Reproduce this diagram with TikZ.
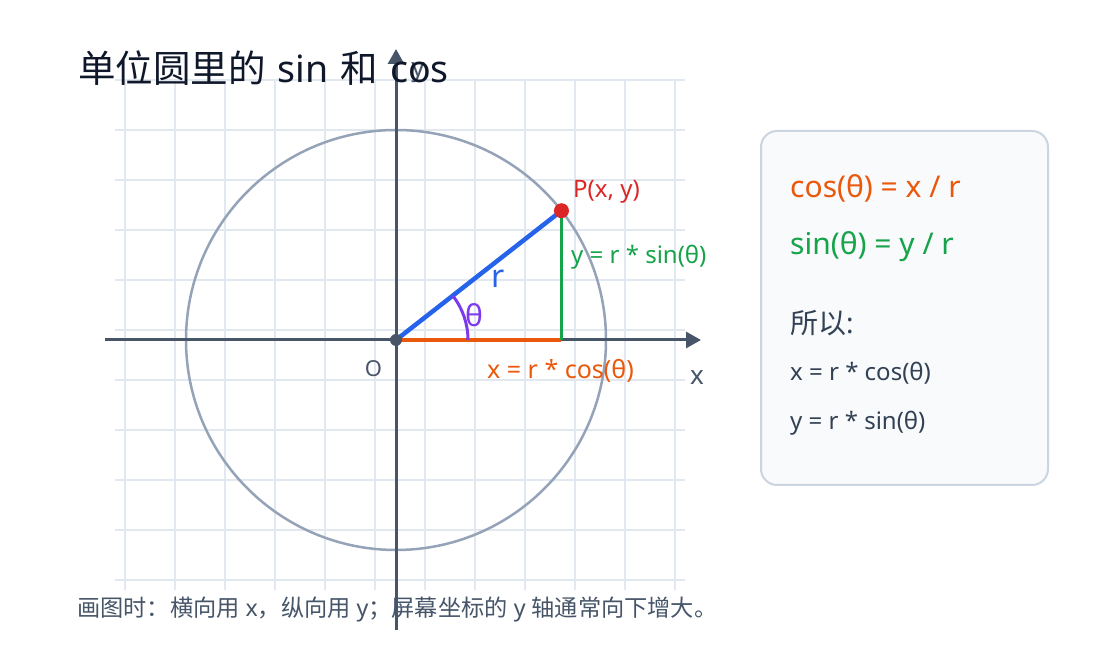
\documentclass[tikz,border=0pt]{standalone}
\usepackage{fontspec}
\setmainfont{Noto Sans}
\newfontfamily\cjk{Noto Sans CJK SC}
\usetikzlibrary{arrows.meta}
\def\pxsize#1{\fontsize{#1pt}{#1pt}\selectfont}
\definecolor{axisgray}{HTML}{475569}
\definecolor{gridgray}{HTML}{E2E8F0}
\definecolor{circgray}{HTML}{94A3B8}
\definecolor{rblue}{HTML}{2563EB}
\definecolor{cosorange}{HTML}{EA580C}
\definecolor{singreen}{HTML}{16A34A}
\definecolor{angpurple}{HTML}{7C3AED}
\definecolor{pred}{HTML}{DC2626}
\definecolor{titleink}{HTML}{0F172A}
\definecolor{panelink}{HTML}{334155}
\definecolor{panelfill}{HTML}{F8FAFC}
\definecolor{panelline}{HTML}{CBD5E1}

\begin{document}
\begin{tikzpicture}[x=1pt,y=1pt,
		gridline/.style={draw=gridgray,line width=1.2pt},
		axisline/.style={draw=axisgray,line width=3pt,-{Triangle[length=15pt,width=16pt]}},
		lbl/.style={inner sep=0pt,anchor=base west}]
		%%%%% START %%%%%
		
		\useasboundingbox[fill=white] (0,0) rectangle (1120,650);
		
		\foreach \gx in {125,175,...,675} \draw[gridline] (\gx,570) -- (\gx,60);
		\foreach \gy in {570,520,...,70} \draw[gridline] (115,\gy) -- (685,\gy);
		
		\coordinate (O) at (396,310);
		\coordinate (P) at ([shift={(O)}]38:210pt);
		\coordinate (Q) at (P |- O);
		\coordinate (xl) at (105,310);
		\coordinate (xr) at (701,310);
		\coordinate (yb) at (396,20);
		\coordinate (yt) at (396,601);
		
		\draw[draw=circgray, line width=2.5pt] (O) circle[radius=210pt];
		
		\draw[axisline] (xl) -- (xr);
		\draw[axisline] (yb) -- (yt);
		
		\draw[line width=3.5pt, color=cosorange] (O) -- (Q);
		\draw[line width=3.5pt, color=singreen] (Q) -- (P);
		\draw[line width=4.5pt, color=rblue] (O) -- (P);
		\draw[line width=3pt, color=angpurple] ([shift={(O)}]0:72pt) arc[start angle=0, end angle=38, radius=72pt];
		
		\fill[pred] (P) circle[radius=7.5pt];
		\fill[axisgray] (O) circle[radius=6pt];
		
		\node[lbl, text=pred] (plabel) at (573,452) {\pxsize{24}P(x, y)};
		\node[lbl, text=singreen] (ylabel) at (571,386) {\pxsize{24}y = r * sin(θ)};
		\node[lbl, text=cosorange] (xlabel) at (487,271) {\pxsize{25}x = r * cos(θ)};
		\node[lbl, text=rblue] (rlabel) at (491,362) {\pxsize{32}r};
		\node[lbl, text=angpurple] (thlabel) at (465,323) {\pxsize{30}θ};
		\node[inner sep=0pt, text=axisgray] (olabel) at (373.5,281) {\pxsize{22}O};
		\node[inner sep=0pt, text=axisgray] (xaxis) at (697,272) {\pxsize{26}x};
		\node[inner sep=0pt, anchor=base, text=axisgray] (yaxis) at (418,573) {\pxsize{26}y};
		
		\node[lbl, text=titleink] (title) at (78,567) {\pxsize{37.5}{\cjk 单位圆里的}\hspace{12pt}sin\hspace{12pt}{\cjk 和}\hspace{12pt}cos};
		
		\draw[draw=panelline, fill=panelfill, line width=2pt, rounded corners=16pt] (761,519) rectangle (1048,165);
		\node[lbl, text=cosorange] (cosrule) at (790,452) {\pxsize{30}cos(θ) = x / r};
		\node[lbl, text=singreen] (sinrule) at (790,395) {\pxsize{30}sin(θ) = y / r};
		\node[lbl, text=panelink] (sothat) at (790,316) {\pxsize{28}{\cjk 所以}:};
		\node[lbl, text=panelink] (xrule) at (790,269) {\pxsize{24}x = r * cos(θ)};
		\node[lbl, text=panelink] (yrule) at (790,220) {\pxsize{24}y = r * sin(θ)};
		
		\node[lbl, text=axisgray] (caption) at (77,33) {\pxsize{23.2}{\cjk 画图时：横向用} x{\cjk ，纵向用} y{\cjk ；屏幕坐标的} y {\cjk 轴通常向下增大。}};
		
		%%%%% END %%%%%
	\end{tikzpicture}
\end{document}
